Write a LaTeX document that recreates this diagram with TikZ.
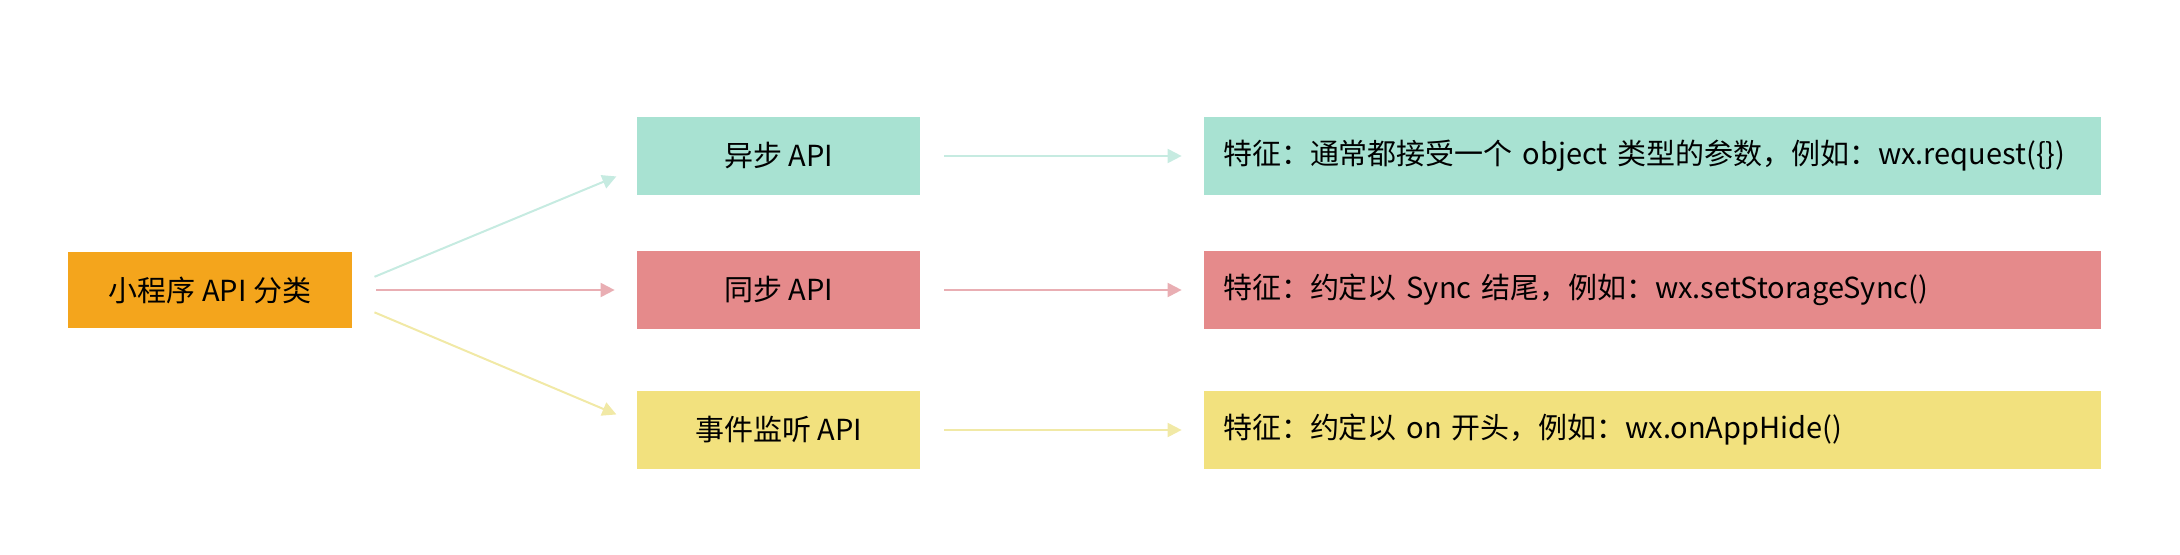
\documentclass[tikz,border=0pt]{standalone}
\usepackage{fontspec}
\setmainfont{Noto Sans CJK SC}
\usepackage{xcolor}
\usetikzlibrary{positioning, arrows.meta}

\definecolor{rootorange}{HTML}{F4A51C}
\definecolor{asyncgreen}{HTML}{A8E2D2}
\definecolor{syncred}{HTML}{E58A8B}
\definecolor{eventyellow}{HTML}{F2E17E}
\definecolor{asyncline}{HTML}{C6EBE1}
\definecolor{syncline}{HTML}{E9AEB3}
\definecolor{eventline}{HTML}{F1E9A6}

\begin{document}
\begin{tikzpicture}[>={Triangle[length=0.28cm, width=0.28cm]}, node distance=11.37cm, on grid,
        box/.style={rectangle, minimum height=1.56cm, font=\fontsize{16.5}{19}\selectfont},
        apibox/.style={box, minimum width=5.66cm},
        featbox/.style={box, text width=17.18cm, inner xsep=0.38cm, align=left},
        link/.style={->, line width=0.04cm, shorten <=0.48cm, shorten >=0.44cm}]
        \useasboundingbox (-4.2,-5.28) rectangle (39.4,5.8);

        \node[box, fill=rootorange, minimum width=5.68cm, minimum height=1.52cm] (root) {小程序 API 分类};
        \node[apibox, fill=asyncgreen] (async) [above right=2.68 and 11.37 of root] {异步 API};
        \node[apibox, fill=syncred] (sync) [right=of root] {同步 API};
        \node[apibox, fill=eventyellow] (event) [below right=2.8 and 11.37 of root] {事件监听 API};

        \node[featbox, fill=asyncgreen] (asyncfeat) [right=17.48 of async] {特征：通常都接受一个 object 类型的参数，例如：wx.request(\{\})};
        \node[featbox, fill=syncred] (syncfeat) [right=17.48 of sync] {特征：约定以 Sync 结尾，例如：wx.setStorageSync()};
        \node[featbox, fill=eventyellow] (eventfeat) [right=17.48 of event] {特征：约定以 on 开头，例如：wx.onAppHide()};

        \path[link]
        ([yshift=0.08cm]root.east) edge [asyncline] ([yshift=-0.24cm]async.west)
        (root.east) edge [syncline] (sync.west)
        ([yshift=-0.26cm]root.east) edge [eventline] ([yshift=0.14cm]event.west)
        (async.east) edge [asyncline] (asyncfeat.west)
        (sync.east) edge [syncline] (syncfeat.west)
        (event.east) edge [eventline] (eventfeat.west);
    \end{tikzpicture}
\end{document}
